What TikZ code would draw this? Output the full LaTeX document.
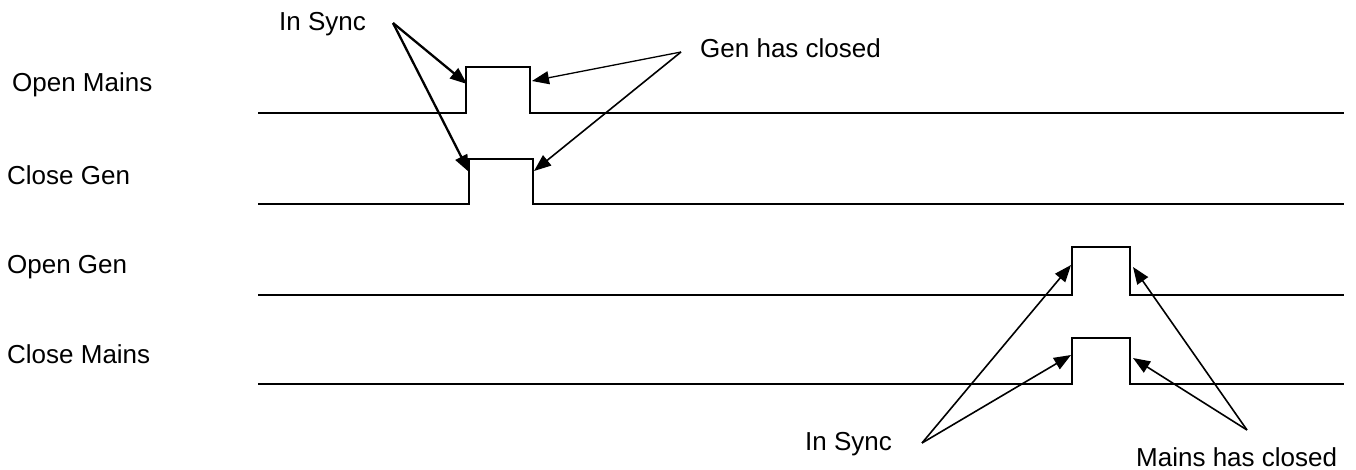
\documentclass[tikz,border=0pt]{standalone}
\usepackage{fontspec}
\setmainfont{Liberation Sans}
\usetikzlibrary{arrows.meta}
\begin{document}
\begin{tikzpicture}[x=1pt,y=-1pt,
  lbl/.style={anchor=base west,inner sep=0pt,font=\fontsize{26}{30}\selectfont},
  sig/.style={line width=2pt,line join=miter},
  ptr/.style={line width=1.6pt,-{Triangle[length=17pt,width=13pt]}},
  ptrthick/.style={line width=2.3pt,-{Triangle[length=17pt,width=13pt]}},
  ptrthin/.style={line width=1.3pt,-{Triangle[length=17pt,width=13pt]}}]
\useasboundingbox (0,0) rectangle (1356,469);
% signal labels
\node[lbl] (om) at (12,91) {Open Mains};
\node[lbl] (cg) at (7,184) {Close Gen};
\node[lbl] (og) at (7,273) {Open Gen};
\node[lbl] (cm) at (7,363) {Close Mains};
% signals
\draw[sig] (258,113) -- (466,113) -- (466,67) -- (530,67) -- (530,113) -- (1344,113);
\draw[sig] (258,204) -- (469,204) -- (469,159) -- (533,159) -- (533,204) -- (1344,204);
\draw[sig] (258,295) -- (1072,295) -- (1072,247) -- (1130,247) -- (1130,295) -- (1344,295);
\draw[sig] (258,384) -- (1072,384) -- (1072,338) -- (1130,338) -- (1130,384) -- (1344,384);
% annotation labels
\node[lbl] (is1) at (279,30) {In Sync};
\node[lbl] (ghc) at (700,57) {Gen has closed};
\node[lbl] (is2) at (805,450) {In Sync};
\node[lbl] (mhc) at (1136,466) {Mains has closed};
% arrow origins and tips
\coordinate (is1o) at (393,23);
\coordinate (ghco) at (681,52);
\coordinate (is2o) at (922,443);
\coordinate (mhco) at (1247,430);
\coordinate (t1a) at (467,84);
\coordinate (t1b) at (469,172);
\coordinate (t2a) at (532,81);
\coordinate (t2b) at (534,171);
\coordinate (t3a) at (1071,265);
\coordinate (t3b) at (1071,355);
\coordinate (t4a) at (1133,267);
\coordinate (t4b) at (1133,358);
% arrows
\draw[ptrthick] (is1o) -- (t1a);
\draw[ptrthick] (is1o) -- (t1b);
\draw[ptrthin] (ghco) -- (t2a);
\draw[ptr] (ghco) -- (t2b);
\draw[ptr] (is2o) -- (t3a);
\draw[ptr] (is2o) -- (t3b);
\draw[ptr] (mhco) -- (t4a);
\draw[ptr] (mhco) -- (t4b);
\end{tikzpicture}
\end{document}
